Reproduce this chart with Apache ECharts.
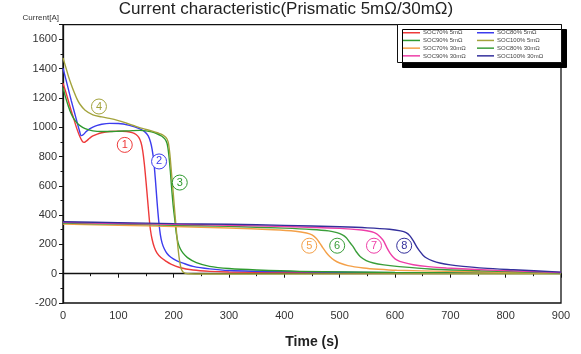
<!DOCTYPE html>
<html>
<head>
<meta charset="utf-8">
<script src="https://cdn.jsdelivr.net/npm/echarts@6/dist/echarts.min.js"></script>
<style>html,body{margin:0;padding:0;background:#fff;}#c{width:581px;height:354px;}</style>
</head>
<body>
<div id="c"></div>
<script>
var FONT = 'Liberation Sans, Arial, sans-serif';
var titleText = 'Current characteristic(Prismatic 5mΩ/30mΩ)';
var yName = 'Current[A]';
var xName = 'Time (s)';

var seriesNames = ['SOC70% 5mΩ','SOC80% 5mΩ','SOC90% 5mΩ','SOC100% 5mΩ','SOC70% 30mΩ','SOC80% 30mΩ','SOC90% 30mΩ','SOC100% 30mΩ'];
var seriesColors = ['#ee3a3a','#3c3cee','#2f9a2f','#a3a33c','#f4a048','#3a9e3a','#ee3fa8','#34309c'];

var soc70_5 = [[0,1300],[5,1240],[10,1175],[15,1110],[20,1050],[25,990],[30,940],[35,903],[38,896],[42,905],[48,924],[54,940],[62,953],[70,962],[84,970],[100,973],[115,970],[125,963],[132,950],[137,930],[141,895],[144,840],[147,750],[150,630],[153,500],[156,370],[158,300],[161,235],[165,180],[170,140],[177,110],[185,88],[195,65],[211,42],[235,25],[265,16],[300,12],[400,9],[600,5],[900,2]];
var soc80_5 = [[0,1402],[5,1330],[10,1255],[15,1180],[20,1110],[25,1040],[30,972],[33,942],[37,950],[42,970],[48,988],[54,1000],[62,1012],[70,1020],[84,1026],[100,1025],[120,1012],[139,988],[148,968],[154,940],[158,900],[161,850],[164,770],[167,640],[170,490],[173,360],[176,265],[179,210],[183,170],[188,138],[195,112],[205,90],[217,72],[235,50],[265,33],[300,22],[400,14],[600,7],[900,2]];
var soc90_5 = [[0,1270],[5,1200],[10,1140],[15,1090],[20,1055],[25,1030],[30,1012],[40,990],[54,975],[70,970],[84,970],[100,972],[120,975],[139,978],[150,975],[160,968],[170,955],[178,940],[184,920],[188,890],[191,820],[194,700],[196,600],[199,470],[202,370],[205,270],[208,210],[212,170],[217,140],[225,110],[241,75],[265,50],[300,35],[350,25],[428,16],[600,8],[900,3]];
var soc100_5 = [[0,1472],[5,1410],[10,1345],[15,1290],[20,1240],[25,1195],[30,1160],[40,1115],[54,1084],[70,1070],[84,1060],[100,1045],[115,1027],[130,1008],[145,990],[160,975],[172,960],[180,948],[186,930],[190,900],[193,820],[196,690],[199,560],[202,420],[205,290],[208,170],[211,80],[214,30],[218,8],[225,0],[300,-2],[900,0]];
var soc70_30 = [[0,338],[100,330],[200,322],[300,312],[380,300],[420,290],[440,278],[450,265],[458,240],[464,209],[470,175],[476,143],[482,118],[490,93],[500,73],[515,55],[543,39],[570,30],[603,23],[693,16],[800,10],[900,5]];
var soc80_30 = [[0,345],[100,338],[200,331],[300,323],[400,311],[450,302],[480,292],[495,280],[505,265],[512,245],[518,215],[524,186],[530,150],[537,118],[548,90],[561,73],[580,60],[603,50],[663,32],[754,20],[900,5]];
var soc90_30 = [[0,350],[100,343],[200,337],[300,330],[400,322],[500,309],[540,298],[558,286],[567,272],[573,252],[579,225],[585,180],[591,141],[597,113],[603,95],[615,77],[633,61],[660,48],[693,39],[784,23],[900,8]];
var soc100_30 = [[0,355],[100,348],[200,342],[300,337],[400,330],[500,320],[550,313],[590,303],[610,292],[620,280],[627,258],[633,225],[639,185],[645,152],[651,125],[657,107],[668,88],[681,73],[700,60],[723,50],[760,38],[814,27],[900,11]];
var seriesData = [soc70_5,soc80_5,soc90_5,soc100_5,soc70_30,soc80_30,soc90_30,soc100_30];

var noteLabels = ['1','2','3','4','5','6','7','8'];
var noteX = [111.6,173.6,211,65,445,495.5,562,616.6];
var noteY = [879,766,622,1141,191,191,191,191];

var xMin = 0, xMax = 900, xInterval = 100;
var yMin = -200, yMax = 1700, yInterval = 200;

var chart = echarts.init(document.getElementById('c'));
var series = seriesData.map(function(d, i){
  return {
    name: seriesNames[i], type: 'line', data: d, smooth: 0.3,
    showSymbol: false, symbol: 'none', z: 2 + i * 0.01,
    lineStyle: {color: seriesColors[i], width: 1.4}, itemStyle: {color: seriesColors[i]}
  };
});
series.push({
  type: 'scatter', symbol: 'circle', symbolSize: 15, z: 5, silent: true,
  data: noteLabels.map(function(n, i){
    return {value: [noteX[i], noteY[i]],
      itemStyle: {color: '#fff', borderColor: seriesColors[i], borderWidth: 1, opacity: 1},
      label: {show: true, formatter: n, color: seriesColors[i], fontSize: 11, fontFamily: FONT, position: 'inside'}};
  })
});

var legendCommon = {
  orient: 'vertical', icon: 'rect', itemWidth: 17, itemHeight: 1.5, itemGap: 1.2,
  textStyle: {fontSize: 6, lineHeight: 6.5, color: '#444', fontFamily: FONT, padding: [0,0,0,-2]},
  padding: 0, z: 10, selectedMode: false
};

chart.setOption({
  animation: false,
  backgroundColor: '#fff',
  title: {text: titleText, left: 281, textAlign: 'center', top: -4,
    textStyle: {fontSize: 17, fontWeight: 'normal', color: '#222', fontFamily: FONT}},
  grid: {left: 63, right: 20, top: 24.6, bottom: 50.7, show: true, borderColor: '#111', borderWidth: 1.3},
  legend: [
    Object.assign({}, legendCommon, {left: 403, top: 29.5, data: [seriesNames[0], seriesNames[2], seriesNames[4], seriesNames[6]]}),
    Object.assign({}, legendCommon, {left: 477, top: 29.5, data: [seriesNames[1], seriesNames[3], seriesNames[5], seriesNames[7]]})
  ],
  graphic: [{
    type: 'rect', left: 397, top: 24, z: 8,
    shape: {width: 164, height: 38},
    style: {fill: '#fff', stroke: '#111', lineWidth: 1, shadowColor: '#000', shadowOffsetX: 5, shadowOffsetY: 5, shadowBlur: 0}
  }],
  xAxis: {
    type: 'value', min: xMin, max: xMax, interval: xInterval,
    name: xName, nameLocation: 'middle', nameGap: 32,
    nameTextStyle: {fontSize: 14, fontWeight: 'bold', color: '#222', fontFamily: FONT},
    axisLine: {lineStyle: {color: '#111', width: 1.3}},
    axisTick: {show: true, inside: false, length: 4, lineStyle: {color: '#111'}},
    minorTick: {show: true, splitNumber: 2, length: 2.5, lineStyle: {color: '#111'}},
    axisLabel: {fontSize: 11, color: '#333', margin: 7, fontFamily: FONT, formatter: function(v){ return String(v); }},
    splitLine: {show: false}
  },
  yAxis: {
    type: 'value', min: yMin, max: yMax, interval: yInterval,
    name: yName, nameLocation: 'end', nameGap: 3,
    nameTextStyle: {fontSize: 8, color: '#333', align: 'right', fontFamily: FONT, padding: [0, 4, 0, 0]},
    axisLine: {lineStyle: {color: '#111', width: 1.3}},
    axisTick: {show: true, inside: false, length: 4, lineStyle: {color: '#111'}},
    minorTick: {show: true, splitNumber: 2, length: 2.5, lineStyle: {color: '#111'}},
    axisLabel: {fontSize: 11, color: '#333', margin: 6, showMaxLabel: false, fontFamily: FONT, formatter: function(v){ return String(v); }},
    splitLine: {show: false}
  },
  series: series
});
</script>
</body>
</html>
